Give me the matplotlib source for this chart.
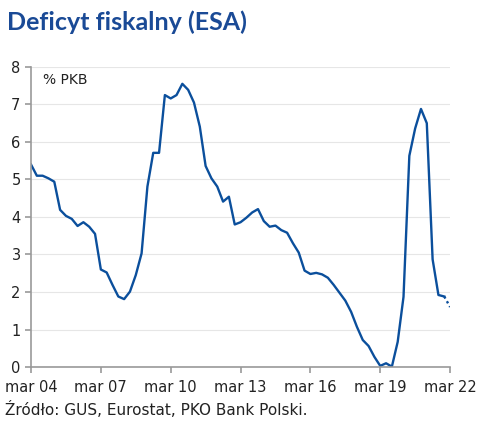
import matplotlib.pyplot as plt

# quarterly deficit, % of GDP, from mar 04 onwards
deficit = [5.40, 5.10, 5.10, 5.03, 4.94, 4.19, 4.03, 3.95, 3.76, 3.86,
           3.74, 3.55, 2.60, 2.52, 2.19, 1.88, 1.81, 2.01, 2.45, 3.03,
           4.81, 5.71, 5.71, 7.25, 7.16, 7.25, 7.55, 7.39, 7.05, 6.41,
           5.36, 5.03, 4.81, 4.41, 4.54, 3.80, 3.86, 3.98, 4.12, 4.21,
           3.89, 3.74, 3.77, 3.65, 3.58, 3.30, 3.05, 2.57, 2.48, 2.51,
           2.47, 2.38, 2.19, 1.98, 1.77, 1.47, 1.07, 0.72, 0.56, 0.27,
           0.03, 0.10, 0.01, 0.67, 1.87, 5.63, 6.36, 6.88, 6.50, 2.87,
           1.92, 1.88]
forecast = [1.88, 1.60]
tick_labels = ['mar 04', 'mar 07', 'mar 10', 'mar 13', 'mar 16', 'mar 19', 'mar 22']

blue = '#0b4f9c'
grey = '#999999'

fig = plt.figure(figsize=(4.89, 4.33), dpi=100)
ax = fig.add_axes([0.0634, 0.1524, 0.857, 0.693])

x = list(range(len(deficit)))
ax.plot(x, deficit, color=blue, lw=1.7, solid_joinstyle='round')
ax.plot([len(deficit) - 1, len(deficit)], forecast, color=blue, lw=1.7,
        ls=(0, (1, 1.3)))

ax.set_xlim(0, 72)
ax.set_ylim(0, 8)
ax.set_xticks(range(0, 73, 12))
ax.set_xticklabels(tick_labels)
ax.set_yticks(range(0, 9))
ax.grid(axis='y', color='#e6e6e6', lw=0.8)
ax.set_axisbelow(True)

for s in ['top', 'right']:
    ax.spines[s].set_visible(False)
for s in ['left', 'bottom']:
    ax.spines[s].set_color(grey)
    ax.spines[s].set_linewidth(1.2)
ax.tick_params(colors=grey, labelcolor='#222222', labelsize=10.5, length=4, width=1.2)
ax.tick_params(axis='x', pad=5)

ax.text(2, 7.55, '% PKB', fontsize=10, color='#222222')

fig.text(0.014, 0.975, 'Deficyt fiskalny (ESA)', fontsize=18, fontweight='bold',
         family='Lato', color='#1a4a96', va='top')
fig.text(0.01, 0.035, 'Źródło: GUS, Eurostat, PKO Bank Polski.', fontsize=11,
         color='#222222', va='bottom')

fig.savefig('out.png', dpi=100)
